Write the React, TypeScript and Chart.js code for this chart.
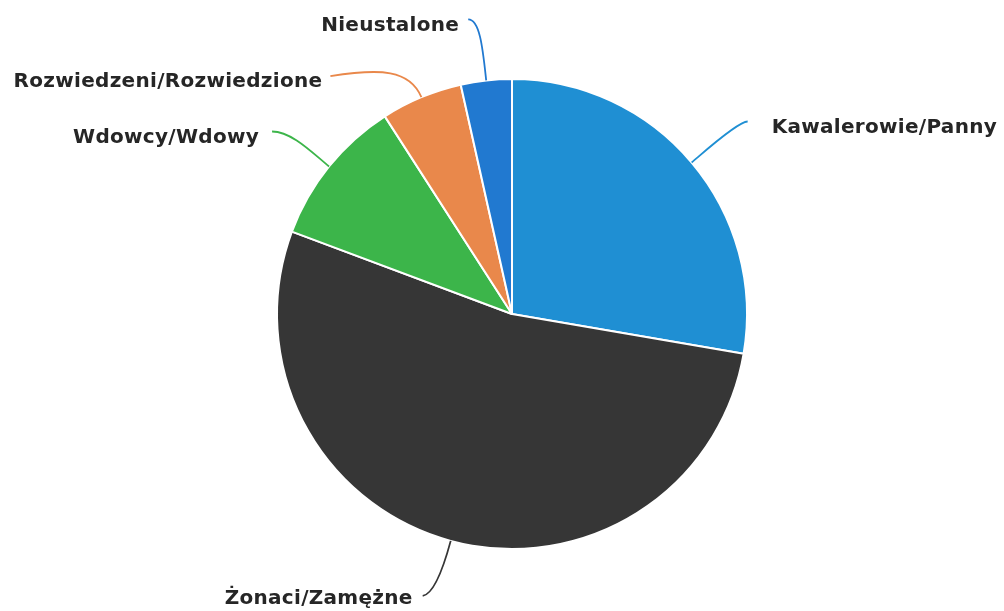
import React, { useEffect, useRef } from "react";
import { Chart, registerables } from "chart.js";

Chart.register(...registerables);

const CATEGORIES = [
  "Kawalerowie/Panny",
  "Żonaci/Zamężne",
  "Wdowcy/Wdowy",
  "Rozwiedzeni/Rozwiedzione",
  "Nieustalone",
];
const VALUES = [27.7, 53.0, 10.2, 5.6, 3.5];
const COLORS = ["#1f8fd3", "#363636", "#3cb54a", "#e9884b", "#2179d0"];

// label layout: offset of connector end from slice edge point, control offsets, text side/gap
const LABEL_LAYOUT = [
  { dx: 56, dy: -41, c1x: -10, c1y: 0, k: 15, side: 1, gap: 24, ty: 6 },
  { dx: -28, dy: 55, c1x: 12, c1y: -2, k: 25, side: -1, gap: 10, ty: 3 },
  { dx: -57, dy: -35, c1x: 20, c1y: 0, k: 20, side: -1, gap: 13, ty: 6 },
  { dx: -91, dy: -21, c1x: 50, c1y: -8, k: 30, side: -1, gap: 8, ty: 6 },
  { dx: -18, dy: -61, c1x: 12, c1y: 0, k: 30, side: -1, gap: 9, ty: 6 },
];

const outLabels = {
  id: "outLabels",
  afterDatasetsDraw(chart: any) {
    const ctx = chart.ctx;
    const meta = chart.getDatasetMeta(0);
    const labels = chart.data.labels as string[];
    meta.data.forEach((arc: any, i: number) => {
      const p = arc.getProps(["x", "y", "startAngle", "endAngle", "outerRadius"], true);
      const mid = (p.startAngle + p.endAngle) / 2;
      const ux = Math.cos(mid);
      const uy = Math.sin(mid);
      const ex = p.x + ux * p.outerRadius;
      const ey = p.y + uy * p.outerRadius;
      const s = LABEL_LAYOUT[i];
      const lx = ex + s.dx;
      const ly = ey + s.dy;
      ctx.save();
      ctx.beginPath();
      ctx.moveTo(lx, ly);
      ctx.bezierCurveTo(lx + s.c1x, ly + s.c1y, ex + ux * s.k, ey + uy * s.k, ex, ey);
      ctx.strokeStyle = COLORS[i];
      ctx.lineWidth = 1.8;
      ctx.stroke();
      ctx.font = 'bold 20px "DejaVu Sans"';
      try {
        (ctx as any).letterSpacing = "0.3px";
      } catch (e) {}
      ctx.fillStyle = "#262626";
      ctx.textAlign = s.side < 0 ? "right" : "left";
      ctx.textBaseline = "middle";
      ctx.fillText(labels[i], lx + s.side * s.gap, ly + s.ty);
      ctx.restore();
    });
  },
};

export default function App() {
  const ref = useRef<HTMLCanvasElement | null>(null);
  useEffect(() => {
    if (!ref.current) return;
    const chart = new Chart(ref.current, {
      type: "pie",
      data: {
        labels: CATEGORIES,
        datasets: [
          {
            data: VALUES,
            backgroundColor: COLORS,
            borderColor: "#ffffff",
            borderWidth: 2,
          },
        ],
      },
      options: {
        responsive: false,
        animation: false,
        radius: 235,
        layout: { padding: { left: 20, right: 0, top: 20, bottom: 3 } },
        plugins: { legend: { display: false }, tooltip: { enabled: false } },
      } as any,
      plugins: [outLabels],
    });
    return () => chart.destroy();
  }, []);
  return (
    <div style={{ position: "absolute", left: 0, top: 0, width: 1004, height: 611, background: "#fff" }}>
      <canvas ref={ref} width={1004} height={611} />
    </div>
  );
}
